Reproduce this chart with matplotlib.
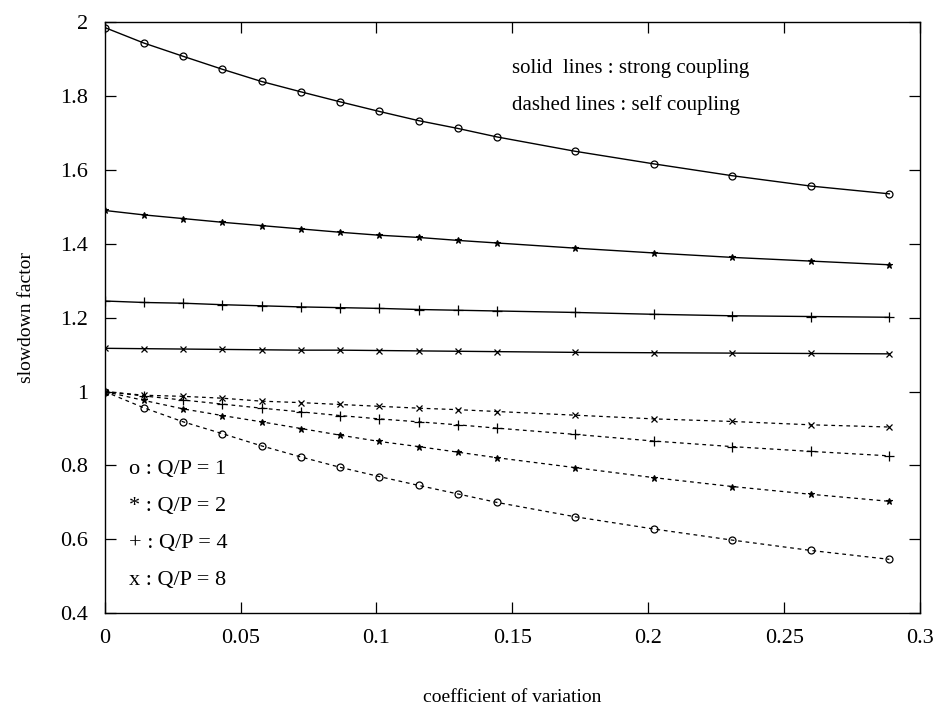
import matplotlib
matplotlib.use('Agg')
import matplotlib.pyplot as plt

# coefficient of variation
cv = [0, 0.0144, 0.0289, 0.0433, 0.0577, 0.0722, 0.0866, 0.1010, 0.1155,
      0.1299, 0.1443, 0.1732, 0.2021, 0.2309, 0.2598, 0.2887]

# strong coupling (solid lines)
strong_qp1 = [1.985, 1.943, 1.907, 1.872, 1.839, 1.811, 1.784, 1.758, 1.733,
              1.712, 1.689, 1.650, 1.616, 1.584, 1.556, 1.535]
strong_qp2 = [1.490, 1.478, 1.468, 1.458, 1.449, 1.440, 1.431, 1.423, 1.417,
              1.409, 1.402, 1.388, 1.375, 1.363, 1.353, 1.343]
strong_qp4 = [1.245, 1.241, 1.239, 1.235, 1.232, 1.229, 1.227, 1.225, 1.222,
              1.220, 1.218, 1.214, 1.209, 1.205, 1.203, 1.201]
strong_qp8 = [1.117, 1.116, 1.115, 1.114, 1.113, 1.112, 1.112, 1.111, 1.110,
              1.109, 1.108, 1.106, 1.105, 1.104, 1.103, 1.102]

# self coupling (dashed lines)
self_qp1 = [1.0, 0.956, 0.918, 0.886, 0.853, 0.823, 0.795, 0.770, 0.746,
            0.723, 0.700, 0.661, 0.628, 0.598, 0.570, 0.546]
self_qp2 = [1.0, 0.976, 0.953, 0.935, 0.918, 0.900, 0.882, 0.865, 0.851,
            0.836, 0.821, 0.794, 0.767, 0.743, 0.722, 0.703]
self_qp4 = [1.0, 0.988, 0.977, 0.966, 0.955, 0.945, 0.935, 0.926, 0.918,
            0.910, 0.901, 0.884, 0.866, 0.851, 0.838, 0.826]
self_qp8 = [1.0, 0.990, 0.987, 0.982, 0.974, 0.970, 0.965, 0.960, 0.955,
            0.951, 0.946, 0.936, 0.926, 0.919, 0.910, 0.904]

legend_lines = ['o : Q/P = 1', '* : Q/P = 2', '+ : Q/P = 4', 'x : Q/P = 8']

plt.rcParams['font.family'] = ['Liberation Serif', 'DejaVu Serif']

fig = plt.figure(figsize=(9.35, 7.09), dpi=100)
ax = fig.add_axes([0.112, 0.135, 0.872, 0.834])

ms = 5
ax.plot(cv, strong_qp1, color='black', lw=1, marker='o', ms=ms, mfc='none', mew=0.9)
ax.plot(cv, strong_qp2, color='black', lw=1, marker='*', ms=ms, mew=0.8)
ax.plot(cv, strong_qp4, color='black', lw=1, marker='+', ms=7, mew=0.9)
ax.plot(cv, strong_qp8, color='black', lw=1, marker='x', ms=ms, mew=0.9)

dash = (0, (3, 3))
ax.plot(cv, self_qp1, color='black', lw=0.9, ls=dash, marker='o', ms=ms, mfc='none', mew=0.9)
ax.plot(cv, self_qp2, color='black', lw=0.9, ls=dash, marker='*', ms=ms, mew=0.8)
ax.plot(cv, self_qp4, color='black', lw=0.9, ls=dash, marker='+', ms=7, mew=0.9)
ax.plot(cv, self_qp8, color='black', lw=0.9, ls=dash, marker='x', ms=ms, mew=0.9)

ax.set_xlim(0, 0.3)
ax.set_ylim(0.4, 2)
ax.set_xticks([0, 0.05, 0.1, 0.15, 0.2, 0.25, 0.3])
ax.set_xticklabels(['0', '0.05', '0.1', '0.15', '0.2', '0.25', '0.3'])
ax.set_yticks([0.4, 0.6, 0.8, 1, 1.2, 1.4, 1.6, 1.8, 2])
ax.set_yticklabels(['0.4', '0.6', '0.8', '1', '1.2', '1.4', '1.6', '1.8', '2'])
ax.tick_params(direction='in', length=8, width=0.9, top=True, right=True,
               labelsize=16)
ax.tick_params(axis='x', pad=11)
ax.tick_params(axis='y', pad=12)
for s in ax.spines.values():
    s.set_linewidth(1)

ax.set_xlabel('coefficient of variation', fontsize=14, labelpad=30)
ax.set_ylabel('slowdown factor', fontsize=14, labelpad=18)

ax.text(0.15, 1.875, 'solid  lines : strong coupling', fontsize=15, va='center')
ax.text(0.15, 1.775, 'dashed lines : self coupling', fontsize=15, va='center')

for i, t in enumerate(legend_lines):
    ax.text(0.009, 0.79 - 0.1 * i, t, fontsize=16, va='center')

fig.savefig('out.png', dpi=100)
